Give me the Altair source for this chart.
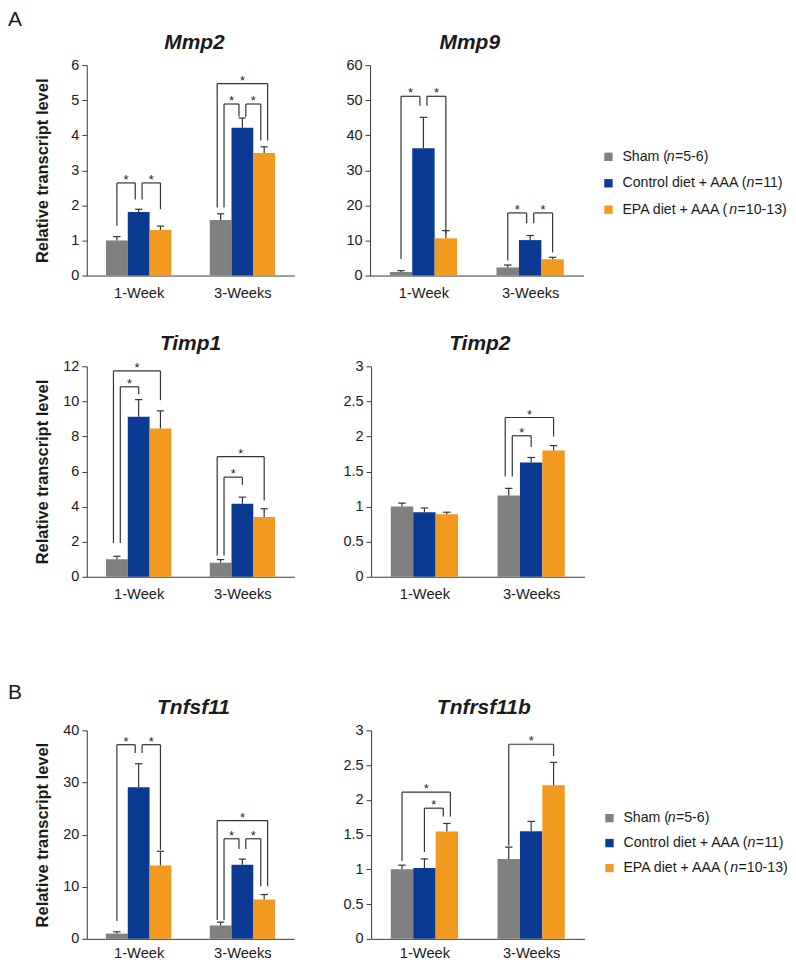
import altair as alt
import pandas as pd

FONT = "Liberation Sans, Arial, Helvetica, sans-serif"

GROUPS = ["1-Week", "3-Weeks"]
SERIES = ["Sham (n=5-6)", "Control diet + AAA (n=11)", "EPA diet + AAA (n=10-13)"]
COLORS = ["#808080", "#0a3a92", "#f29a20"]
Y_TITLE = "Relative transcript level"

# ---- values: [group][series] ----
MMP2_MEAN = [[1.00, 1.81, 1.30], [1.58, 4.21, 3.49]]
MMP2_ERR = [[0.11, 0.08, 0.11], [0.18, 0.28, 0.18]]
# significance brackets: group, from-series, to-series, bracket level, left-leg bottom, right-leg bottom
MMP2_BRACKETS = [
    [0, 0, 1, 2.64, 1.42, 2.17],
    [0, 1, 2, 2.64, 2.17, 1.89],
    [1, 0, 1, 4.89, 1.94, 4.53],
    [1, 1, 2, 4.89, 4.53, 3.85],
    [1, 0, 2, 5.47, 1.94, 3.85],
]
MMP2_TICKS = [0, 1, 2, 3, 4, 5, 6]

MMP9_MEAN = [[1.0, 36.3, 10.6], [2.3, 10.1, 4.65]]
MMP9_ERR = [[0.4, 8.8, 2.2], [0.7, 1.3, 0.55]]
MMP9_BRACKETS = [
    [0, 0, 1, 51.1, 4.75, 48.4],
    [0, 1, 2, 51.1, 48.4, 12.0],
    [1, 0, 1, 17.85, 4.3, 14.9],
    [1, 1, 2, 17.85, 14.9, 6.6],
]
MMP9_TICKS = [0, 10, 20, 30, 40, 50, 60]

TIMP1_MEAN = [[1.0, 9.12, 8.46], [0.8, 4.16, 3.41]]
TIMP1_ERR = [[0.17, 0.98, 1.0], [0.18, 0.38, 0.47]]
TIMP1_BRACKETS = [
    [0, 0, 1, 10.83, 1.93, 10.41],
    [0, 0, 2, 11.74, 1.93, 10.07],
    [1, 0, 1, 5.68, 1.21, 5.24],
    [1, 0, 2, 6.85, 1.21, 4.35],
]
TIMP1_TICKS = [0, 2, 4, 6, 8, 10, 12]

TIMP2_MEAN = [[1.0, 0.92, 0.89], [1.16, 1.63, 1.80]]
TIMP2_ERR = [[0.05, 0.06, 0.03], [0.10, 0.07, 0.07]]
TIMP2_BRACKETS = [
    [1, 0, 1, 2.01, 1.43, 1.85],
    [1, 0, 2, 2.27, 1.43, 2.0],
]
TIMP2_TICKS = [0, 0.5, 1, 1.5, 2, 2.5, 3]

TNFSF11_MEAN = [[1.0, 29.1, 14.06], [2.56, 14.2, 7.54]]
TNFSF11_ERR = [[0.34, 4.5, 2.74], [0.64, 1.1, 0.96]]
TNFSF11_BRACKETS = [
    [0, 0, 1, 37.25, 3.4, 35.65],
    [0, 1, 2, 37.25, 35.65, 17.1],
    [1, 0, 1, 19.2, 3.6, 17.25],
    [1, 1, 2, 19.2, 17.25, 10.1],
    [1, 0, 2, 22.7, 3.6, 10.1],
]
TNFSF11_TICKS = [0, 10, 20, 30, 40]

TNFRSF11B_MEAN = [[1.0, 1.02, 1.545], [1.15, 1.55, 2.21]]
TNFRSF11B_ERR = [[0.06, 0.13, 0.115], [0.17, 0.14, 0.33]]
TNFRSF11B_BRACKETS = [
    [0, 1, 2, 1.88, 1.25, 1.76],
    [0, 0, 2, 2.11, 1.12, 1.76],
    [1, 0, 2, 2.80, 1.34, 2.63],
]
TNFRSF11B_TICKS = [0, 0.5, 1, 1.5, 2, 2.5, 3]

PANEL_TAGS = ["A", "B"]

# ---- layout / style constants ----
BAR_W = 0.21
CAP_HALF = 0.035
LEG_GAP = 0.066
LEFT_W = 208
RIGHT_W = 214
LINE_COLOR = "#333333"
AXIS_COLOR = "#3a3a3a"
TEXT_COLOR = "#1a1a1a"
TAG_X = -79
TOP_Y = -39          # invisible anchor that gives every panel the same top extent
TITLE_OFFSET = -44

# Arial / Liberation Sans advance widths (1/1000 em) for legend text layout
CHAR_W = {" ": 278, "(": 333, ")": 333, "+": 584, "-": 333, "=": 584, "A": 667, "C": 722,
          "E": 667, "P": 667, "S": 667, "a": 556, "d": 556, "e": 556, "h": 556, "i": 222,
          "l": 222, "m": 833, "n": 556, "o": 556, "r": 333, "t": 278}
LEG_FS = 14.2


def text_w(s):
    return sum(CHAR_W.get(ch, 556) for ch in s) * LEG_FS / 1000


def center(g, s):
    return g + 0.5 + (s - 1) * BAR_W


def leg_offsets(brackets):
    attach = {}
    for k, (g, i, j, h, lb, rb) in enumerate(brackets):
        attach.setdefault((g, i), []).append((j > i, -j, k, "L"))
        attach.setdefault((g, j), []).append((i > j, -i, k, "R"))
    off = {}
    for lst in attach.values():
        lst.sort(key=lambda t: (t[0], t[1]))
        n = len(lst)
        for r, t in enumerate(lst):
            off[(t[2], t[3])] = (r - (n - 1) / 2) * LEG_GAP
    return off


def legend_layers(x0, y0, gap):
    """Legend drawn as marks to the right of a panel (px relative to the panel's plot area)."""
    out = []
    for i, s in enumerate(SERIES):
        y = y0 + i * gap
        k = s.index("(n") + 1
        pre, it, post = s[:k], s[k], s[k + 1:]
        out.append(alt.Chart(pd.DataFrame({"s": [s]})).mark_square(
            size=70, opacity=1, color=COLORS[i]).encode(x=alt.value(x0), y=alt.value(y)))
        x = x0 + 14
        for piece, style, shift in [(pre, "normal", 0), (it, "italic", -1.4), (post, "normal", -1.0)]:
            out.append(alt.Chart(pd.DataFrame({"t": [piece]})).mark_text(
                align="left", baseline="middle", fontSize=LEG_FS, font=FONT, fontStyle=style,
                color=TEXT_COLOR).encode(text="t:N", x=alt.value(x + shift), y=alt.value(y)))
            x += text_w(piece)
    return out


def text_layer(t, x, y, opacity=1.0):
    return alt.Chart(pd.DataFrame({"t": [t]})).mark_text(
        fontSize=21, font=FONT, color=TEXT_COLOR, align="left", baseline="alphabetic",
        opacity=opacity).encode(text="t:N", x=alt.value(x), y=alt.value(y))


def panel(name, means, errs, brackets, ticks, width, height, left, title_dx=0, tag=None,
          tag_y=TOP_Y, label_pad=10, legend=None):
    bar_rows = []
    for g, grp in enumerate(GROUPS):
        for s, ser in enumerate(SERIES):
            c = center(g, s)
            bar_rows.append({
                "group": grp, "series": ser,
                "x": c - BAR_W / 2, "x2": c + BAR_W / 2, "cx": c,
                "c1": c - CAP_HALF, "c2": c + CAP_HALF,
                "mean": means[g][s], "top": means[g][s] + errs[g][s],
            })
    bars_df = pd.DataFrame(bar_rows)

    off = leg_offsets(brackets)
    hz, legs = [], []
    for k, (g, i, j, h, lb, rb) in enumerate(brackets):
        xl = center(g, i) + off[(k, "L")]
        xr = center(g, j) + off[(k, "R")]
        hz.append({"xl": xl, "xr": xr, "xm": (xl + xr) / 2, "h": h, "star": "*"})
        legs.append({"lx": xl, "lb": lb, "h": h})
        legs.append({"lx": xr, "lb": rb, "h": h})
    hz_df = pd.DataFrame(hz)
    legs_df = pd.DataFrame(legs)

    ymax = ticks[-1]
    xscale = alt.Scale(domain=[0, len(GROUPS)], nice=False, zero=False)
    yscale = alt.Scale(domain=[0, ymax], nice=False)
    label_expr = "[" + ",".join("'" + g + "'" for g in GROUPS) + "][floor(datum.value)]"
    xaxis = alt.Axis(values=[g + 0.5 for g in range(len(GROUPS))], labelExpr=label_expr,
                     ticks=False, grid=False, title=None, labelFontSize=14.7,
                     labelPadding=label_pad, domainColor=AXIS_COLOR, labelColor=TEXT_COLOR,
                     labelFont=FONT)
    common = dict(values=ticks, format=".2~f", grid=False, tickSize=5, tickColor=AXIS_COLOR,
                  domainColor=AXIS_COLOR, labelFontSize=14.5, labelPadding=3,
                  labelColor=TEXT_COLOR, labelFont=FONT)
    if left:
        yaxis = alt.Axis(title=Y_TITLE, titleFontSize=16.5, titleFontWeight="bold",
                         titleFont=FONT, titleColor=TEXT_COLOR, titlePadding=11,
                         minExtent=25, maxExtent=25, **common)
    else:
        yaxis = alt.Axis(title=None, minExtent=28, maxExtent=28, **common)

    def X(f):
        return alt.X(f, type="quantitative", scale=xscale, axis=xaxis)

    def Y(f):
        return alt.Y(f, type="quantitative", scale=yscale, axis=yaxis)

    base_b = alt.Chart(bars_df)
    bars = base_b.mark_bar().encode(
        x=X("x"), x2="x2", y=Y("mean"), y2=alt.datum(0),
        color=alt.Color("series:N", scale=alt.Scale(domain=SERIES, range=COLORS), legend=None),
    )
    stem = base_b.mark_rule(color=LINE_COLOR, strokeWidth=1.2).encode(
        x=X("cx"), y=Y("mean"), y2="top")
    cap = base_b.mark_rule(color=LINE_COLOR, strokeWidth=1.2).encode(
        x=X("c1"), x2="c2", y=Y("top"))
    layers = [bars, stem, cap]
    if len(brackets):
        hzl = alt.Chart(hz_df).mark_rule(color=LINE_COLOR, strokeWidth=1.2).encode(
            x=X("xl"), x2="xr", y=Y("h"))
        legl = alt.Chart(legs_df).mark_rule(color=LINE_COLOR, strokeWidth=1.2).encode(
            x=X("lx"), y=Y("lb"), y2="h")
        stars = alt.Chart(hz_df).mark_text(fontSize=13, font=FONT, color=TEXT_COLOR,
                                           baseline="alphabetic", dy=1).encode(
            x=X("xm"), y=Y("h"), text="star:N")
        layers += [hzl, legl, stars]
    # invisible anchor: same top (and, for left panels, same left) extent for every panel
    layers.append(text_layer("A", TAG_X if left else 10, TOP_Y, opacity=0))
    if tag:
        layers.append(text_layer(tag, TAG_X, tag_y))
    if legend is not None:
        layers += legend_layers(*legend)
    return alt.layer(*layers).properties(
        width=width, height=height,
        title=alt.TitleParams(name, fontSize=21, fontStyle="italic", fontWeight="bold",
                              font=FONT, color=TEXT_COLOR, anchor="middle",
                              offset=TITLE_OFFSET, frame="group", dx=title_dx),
    )


H1 = 211
H3 = 209

mmp2 = panel("Mmp2", MMP2_MEAN, MMP2_ERR, MMP2_BRACKETS, MMP2_TICKS, LEFT_W, H1, True,
             title_dx=4, tag=PANEL_TAGS[0], tag_y=-39)
mmp9 = panel("Mmp9", MMP9_MEAN, MMP9_ERR, MMP9_BRACKETS, MMP9_TICKS, RIGHT_W, H1, False,
             title_dx=-7, legend=(239, 92, 26.5))
timp1 = panel("Timp1", TIMP1_MEAN, TIMP1_ERR, TIMP1_BRACKETS, TIMP1_TICKS, LEFT_W, H1, True)
timp2 = panel("Timp2", TIMP2_MEAN, TIMP2_ERR, TIMP2_BRACKETS, TIMP2_TICKS, RIGHT_W, H1, False,
              title_dx=2)
tnfsf11 = panel("Tnfsf11", TNFSF11_MEAN, TNFSF11_ERR, TNFSF11_BRACKETS, TNFSF11_TICKS, LEFT_W,
                H3, True, title_dx=3, tag=PANEL_TAGS[1], tag_y=-31, label_pad=7)
tnfrsf11b = panel("Tnfrsf11b", TNFRSF11B_MEAN, TNFRSF11B_ERR, TNFRSF11B_BRACKETS,
                  TNFRSF11B_TICKS, RIGHT_W, H3, False, title_dx=6, label_pad=7,
                  legend=(239, 88, 25))

row1 = alt.hconcat(mmp2, mmp9, spacing=48)
row2 = alt.hconcat(timp1, timp2, spacing=48)
row3 = alt.hconcat(tnfsf11, tnfrsf11b, spacing=48)

chart = alt.vconcat(alt.vconcat(row1, row2, spacing=10), row3, spacing=73).properties(
    padding={"left": 0, "top": 0, "right": 0, "bottom": 0}
).configure_view(stroke=None)

chart.save("out.html", embed_options={"renderer": "svg", "actions": False})
